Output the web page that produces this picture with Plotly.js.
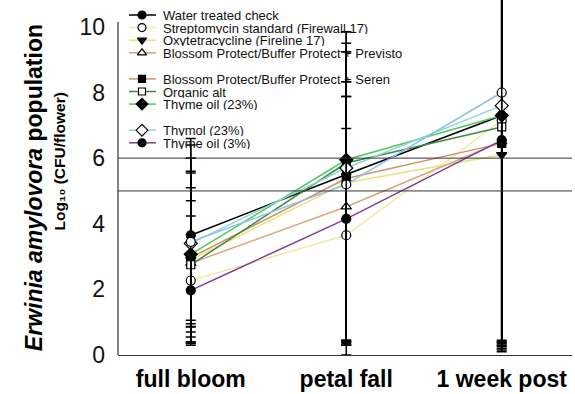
<!DOCTYPE html>
<html>
<head>
<meta charset="utf-8">
<script src="https://cdn.plot.ly/plotly-3.0.1.min.js"></script>
<style>html,body{margin:0;padding:0;background:#fff;}#chart{width:575px;height:394px;}</style>
</head>
<body>
<div id="chart"></div>
<script>
// ---------- data ----------
const categories = ['full bloom', 'petal fall', '1 week post'];

const seriesNames = [
  'Water treated check',
  'Streptomycin standard (Firewall 17)',
  'Oxytetracycline (Fireline 17)',
  'Blossom Protect/Buffer Protect + Previsto',
  'Blossom Protect/Buffer Protect + Seren',
  'Organic alt',
  'Thyme oil (23%)',
  'Thymol (23%)',
  '',
  'Thyme oil (3%)'
];

const water    = [3.65, 5.50, 7.30];
const strep    = [2.27, 3.65, 7.15];
const oxy      = [2.90, 5.25, 6.10];
const previsto = [2.80, 4.52, 6.50];
const seren    = [2.97, 5.38, 6.45];
const organic  = [2.75, 5.85, 6.95];
const thyme23  = [3.07, 5.95, 7.30];
const thymol   = [3.40, 5.70, 7.60];
const thymolB  = [3.45, 5.20, 8.00];
const thyme3   = [1.97, 4.15, 6.55];

// error bars (upper / lower)
const waterUp    = [2.95, 4.35, 4.0], waterDn    = [2.95, 5.50, 6.90];
const strepUp    = [1.97, 3.25, 4.0], strepDn    = [1.97, 3.25, 6.85];
const oxyUp      = [1.80, 3.08, 5.0], oxyDn      = [1.95, 4.95, 5.65];
const previstoUp = [2.30, 3.36, 4.5], previstoDn = [1.74, 4.07, 6.35];
const serenUp    = [2.58, 3.86, 4.5], serenDn    = [2.62, 5.03, 6.20];
const organicUp  = [2.85, 3.65, 4.0], organicDn  = [2.35, 5.55, 6.60];
const thyme23Up  = [2.93, 3.90, 4.0], thyme23Dn  = [2.52, 5.55, 7.10];
const thymolUp   = [3.00, 3.54, 3.5], thymolDn   = [3.00, 5.40, 7.20];
const thymolBUp  = [2.55, 3.13, 3.0], thymolBDn  = [2.60, 4.75, 7.90];
const thyme3Up   = [1.10, 3.73, 4.5], thyme3Dn   = [1.10, 3.75, 6.25];

const yTickVals = [0, 2, 4, 6, 8, 10];
const refLines = [5, 6];

// ---------- styles ----------
const values = [water, strep, oxy, previsto, seren, organic, thyme23, thymol, thymolB, thyme3];
const ups = [waterUp, strepUp, oxyUp, previstoUp, serenUp, organicUp, thyme23Up, thymolUp, thymolBUp, thyme3Up];
const dns = [waterDn, strepDn, oxyDn, previstoDn, serenDn, organicDn, thyme23Dn, thymolDn, thymolBDn, thyme3Dn];
const colors = ['#000000', '#f2eaa0', '#ebe07a', '#d9a57c', '#cf9268', '#3a8a45', '#4fc95a', '#8fd6d6', '#8cc0e6', '#7a3e98'];
const symbols = ['circle', 'circle', 'triangle-down', 'triangle-up', 'square', 'square', 'diamond', 'diamond', 'circle', 'circle'];
const open = [false, true, false, true, false, true, false, true, true, false];
const sizes = [9, 9, 9, 9, 8, 8, 10, 10, 9, 9];

const FONT = 'Liberation Sans, Arial, sans-serif';
const traces = [];

values.forEach((v, i) => {
  traces.push({
    x: categories, y: v, type: 'scatter', mode: 'lines+markers',
    line: {color: colors[i], width: 1.5},
    marker: {symbol: symbols[i], size: sizes[i], color: open[i] ? '#ffffff' : '#000000',
             line: {color: '#000000', width: 1.2}},
    error_y: {type: 'data', symmetric: false, array: ups[i], arrayminus: dns[i],
              color: '#000000', thickness: 1.5, width: 5},
    showlegend: false, hoverinfo: 'skip'
  });
});

// ---------- custom legend (overlay pixel axes) ----------
const legendOrder = [0, 1, 2, 3, 4, 5, 6, 7, 9];
const legendGroupStart = [4, 7];
const annotations = [];
let rowY = 15;
legendOrder.forEach((si, k) => {
  if (k > 0) rowY += 12.6;
  if (legendGroupStart.includes(k)) rowY += 13.5;
  traces.push({
    x: [129, 142, 156], y: [rowY, rowY, rowY], xaxis: 'x2', yaxis: 'y2',
    type: 'scatter', mode: 'lines+markers', cliponaxis: false,
    line: {color: colors[si], width: 1.5},
    marker: {symbol: symbols[si], size: sizes[si] - 1, color: open[si] ? '#ffffff' : '#000000',
             opacity: [0, 1, 0], line: {color: '#000000', width: 1.2}},
    showlegend: false, hoverinfo: 'skip'
  });
  annotations.push({
    xref: 'x2', yref: 'y2', x: 161, y: rowY, xanchor: 'left', yanchor: 'middle',
    height: 12, valign: 'middle',
    text: seriesNames[si], showarrow: false,
    font: {family: FONT, size: 13, color: '#111'}
  });
});

// axis titles
annotations.push({
  xref: 'paper', yref: 'paper', x: -0.185, y: 0.47, xanchor: 'center', yanchor: 'middle',
  textangle: -90, showarrow: false,
  text: '<b><i>Erwinia amylovora</i> population</b>',
  font: {family: FONT, size: 23, color: '#000'}
});
annotations.push({
  xref: 'paper', yref: 'paper', x: -0.128, y: 0.545, xanchor: 'center', yanchor: 'middle',
  textangle: -90, showarrow: false,
  text: '<b>Log₁₀ (CFU/flower)</b>',
  font: {family: FONT, size: 15.5, color: '#000'}
});

const shapes = refLines.map(v => ({
  type: 'line', xref: 'paper', x0: 0, x1: 1, yref: 'y', y0: v, y1: v,
  line: {color: '#333', width: 1}
}));
shapes.push({type: 'line', xref: 'paper', x0: 0, x1: 0, yref: 'y', y0: 0, y1: 10.15,
  line: {color: '#333', width: 1.2}});

const layout = {
  width: 575, height: 394,
  margin: {l: 118, r: 3, t: 0, b: 39, pad: 0},
  paper_bgcolor: '#fff', plot_bgcolor: '#fff',
  showlegend: false,
  xaxis: {
    type: 'category', range: [-0.468, 2.452], showgrid: false, zeroline: false,
    showline: true, linecolor: '#333', linewidth: 1.2, ticks: '',
    tickvals: categories, ticktext: categories.map(c => '<b>' + c + '</b>'),
    tickfont: {family: FONT, size: 23, color: '#000'}, ticklabelstandoff: 3
  },
  yaxis: {
    range: [0, 10.82], showgrid: false, zeroline: false, showline: false, ticks: '',
    tickvals: yTickVals, tickfont: {family: FONT, size: 23, color: '#111'},
    ticklabelstandoff: 12
  },
  xaxis2: {overlaying: 'x', range: [118, 572], visible: false, fixedrange: true},
  yaxis2: {overlaying: 'y', range: [355, 0], visible: false, fixedrange: true},
  shapes: shapes,
  annotations: annotations
};

Plotly.newPlot('chart', traces, layout, {displayModeBar: false, staticPlot: true});
</script>
</body>
</html>
